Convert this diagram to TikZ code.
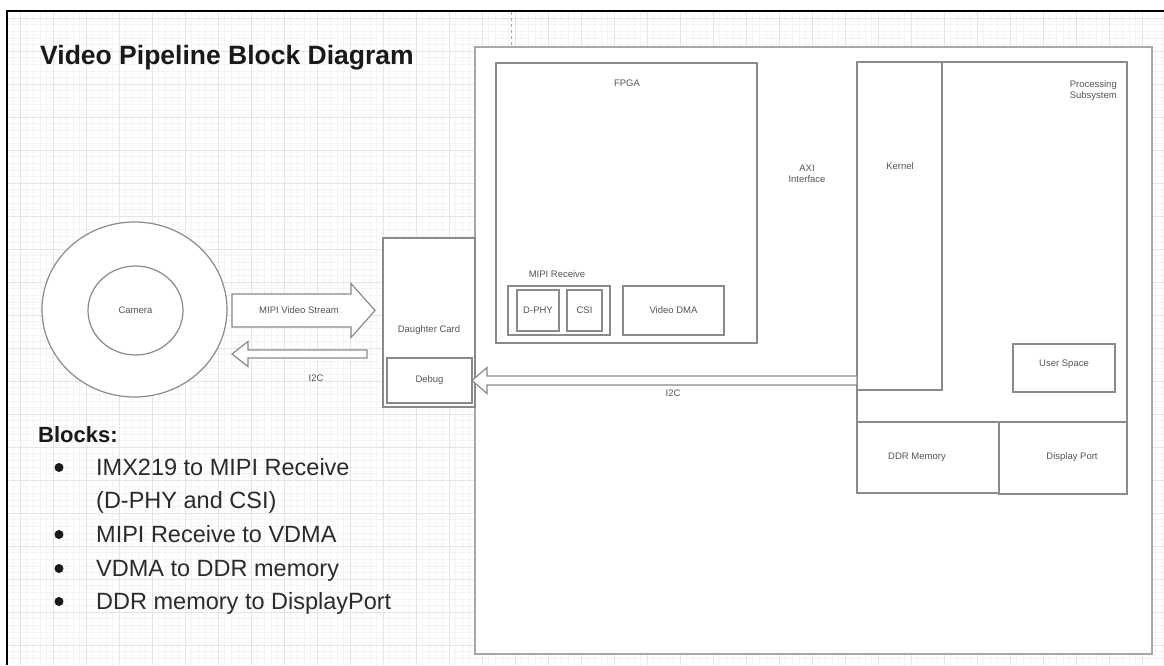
\documentclass[tikz,border=0pt]{standalone}
\usepackage{fontspec}
\setmainfont{Liberation Sans}
\usetikzlibrary{calc,shapes.geometric}

\definecolor{gridminor}{HTML}{F4F4F4}
\definecolor{gridmajor}{HTML}{E5E5E5}
\definecolor{boxline}{HTML}{8A8A8A}
\definecolor{boardline}{HTML}{A8A8A8}
\definecolor{tagtext}{HTML}{555555}
\definecolor{bodytext}{HTML}{2B2B2B}

\tikzset{
    block/.style={draw=boxline, line width=1.2pt, fill=white, inner sep=0pt, outer sep=0pt, anchor=north west},
    tag/.style={font=\fontsize{9.5}{11.5}\selectfont, text=tagtext, inner sep=0pt, align=center},
    hollow/.style={draw=boxline, line width=1.2pt, fill=white, line join=miter},
    listline/.style={anchor=base west, inner sep=0pt, text=bodytext, font=\fontsize{23.5}{26}\selectfont},
}

\newcommand\fatarrow[5]{%
    \coordinate (fa-base) at ($(#2)!#5!(#1)$);
    \draw[hollow] ($(#1)!#3!90:(#2)$) -- ($(fa-base)!#3!90:(#2)$) -- ($(fa-base)!#4!90:(#2)$)
        -- (#2) -- ($(fa-base)!#4!-90:(#2)$) -- ($(fa-base)!#3!-90:(#2)$) -- ($(#1)!#3!-90:(#2)$) -- cycle;
}

\begin{document}
\begin{tikzpicture}[x=1pt,y=-1pt]
    \useasboundingbox (0,0) rectangle (1164,665);
    \fill[white] (0,0) rectangle (1164,665);
    \foreach \x in {13.4,20,...,1164} \draw[gridminor, line width=0.6pt] (\x,11) -- (\x,665);
    \foreach \y in {11.4,18,...,665} \draw[gridminor, line width=0.6pt] (7,\y) -- (1164,\y);
    \foreach \x in {20,53,...,1164} \draw[gridmajor, line width=0.8pt] (\x,11) -- (\x,665);
    \foreach \y in {18,51,...,665} \draw[gridmajor, line width=0.8pt] (7,\y) -- (1164,\y);
    \draw[black, line width=2.2pt] (7,665) -- (7,11) -- (1164,11);
    \draw[boardline, dashed, line width=0.8pt] (511,12) -- (511,46);

    \node[anchor=base west, inner sep=0pt, font=\bfseries\fontsize{26.5}{30}\selectfont, text=black!90] (title) at (40,64) {Video Pipeline Block Diagram};

    \node[block, draw=boardline, line width=2pt, minimum width=677, minimum height=607] (board) at (475,47) {};
    \node[block, minimum width=261, minimum height=280] (fpga) at (496,63) {};
    \node[tag] (fpgatag) at (627,83) {FPGA};
    \node[tag] (mipitag) at (557,274) {MIPI Receive};
    \node[block, minimum width=102, minimum height=49] (mipi) at (508,286) {};
    \node[block, tag, minimum width=42, minimum height=41] (dphy) at (517,290) {D-PHY};
    \node[block, tag, minimum width=35, minimum height=41] (csi) at (567,290) {CSI};
    \node[block, tag, minimum width=101, minimum height=49] (vdma) at (623,286) {Video DMA};
    \node[tag] (axi) at (807,174) {AXI\\Interface};

    \node[block, minimum width=270, minimum height=360] (ps) at (857,62) {};
    \node[tag, anchor=east, align=right] (pstag) at (1117,90.5) {Processing\\Subsystem};
    \node[block, minimum width=85, minimum height=328] (kernel) at (857,62) {};
    \node[tag] (kerneltag) at (900,166) {Kernel};
    \node[block, minimum width=102, minimum height=48] (user) at (1013,344) {};
    \node[tag] (usertag) at (1064,364) {User Space};
    \node[block, minimum width=142, minimum height=71] (ddr) at (857,422) {};
    \node[tag] (ddrtag) at (917,457) {DDR Memory};
    \node[block, minimum width=128, minimum height=72] (dport) at (999,422) {};
    \node[tag] (dporttag) at (1072,457) {Display Port};

    \node[block, minimum width=92, minimum height=169] (daughter) at (383,238) {};
    \node[tag] (daughtertag) at (429,330) {Daughter Card};
    \node[block, tag, minimum width=85, minimum height=45] (debug) at (387,358) {Debug};

    \node[ellipse, draw=boxline, line width=1.2pt, fill=white, minimum width=185, minimum height=175] (lens) at (134.5,309.5) {};
    \node[ellipse, draw=boxline, line width=1.2pt, fill=white, tag, minimum width=95, minimum height=89] (camera) at (135.5,310.5) {Camera};

    \coordinate (vs-tail) at (232,310.5);
    \coordinate (vs-tip) at (375,310.5);
    \fatarrow{vs-tail}{vs-tip}{16.5pt}{27pt}{24pt}
    \node[tag] (vstag) at (299,310.5) {MIPI Video Stream};
    \coordinate (i2c-tail) at (367,354);
    \coordinate (i2c-tip) at (232,354);
    \fatarrow{i2c-tail}{i2c-tip}{4pt}{12.5pt}{16pt}
    \node[tag] (i2ctag) at (316,378) {I2C};
    \coordinate (debug-tail) at (kernel.west |- debug.east);
    \fatarrow{debug-tail}{debug.east}{4.5pt}{13pt}{15pt}
    \node[tag] (debugtag) at (673,393) {I2C};

    \node[anchor=base west, inner sep=0pt, text=black!90, font=\bfseries\fontsize{22}{26}\selectfont] (blocks) at (38,442) {Blocks:};
    \foreach \y/\t in {475/IMX219 to MIPI Receive, 508/(D-PHY and CSI), 542/MIPI Receive to VDMA, 576/VDMA to DDR memory, 609/DDR memory to DisplayPort}
        \node[listline] at (96,\y) {\t};
    \foreach \y in {475,542,576,609}
        \fill[black!90] (59,\y-7.5) circle (4.5);
\end{tikzpicture}
\end{document}
